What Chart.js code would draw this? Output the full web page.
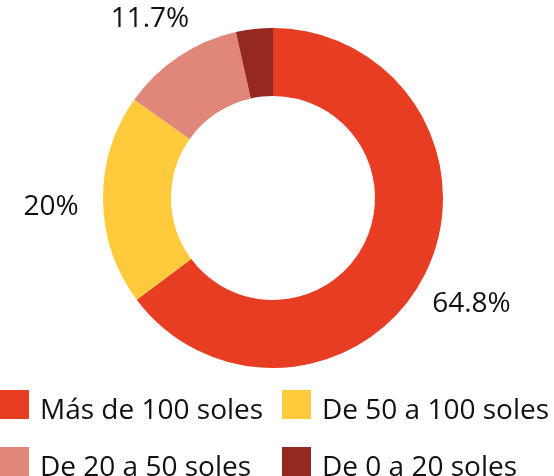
<!DOCTYPE html>
<html>
<head>
<meta charset="utf-8">
<script src="https://cdn.jsdelivr.net/npm/chart.js@4/dist/chart.umd.min.js"></script>
<style>
  html, body { margin: 0; padding: 0; background: #fff; }
  #wrap { position: relative; width: 554px; height: 476px; overflow: hidden; }
  #c { position: absolute; left: 0; top: 0; }
  .lg { position: absolute; height: 29px; }
  .lg .box { position: absolute; left: 0; top: 0; width: 29px; height: 29px; }
  .lg .txt { position: absolute; left: 40px; top: 4px; line-height: 28px; white-space: nowrap;
             font-family: "Open Sans", sans-serif; font-size: 28px; color: #111; }
</style>
</head>
<body>
<div id="wrap">
  <canvas id="c" width="554" height="476"></canvas>
</div>
<script>
const categories = ["Más de 100 soles", "De 50 a 100 soles", "De 20 a 50 soles", "De 0 a 20 soles"];
const shares = [64.8, 20, 11.7, 3.5];
const pctLabels = ["64.8%", "20%", "11.7%", ""];
const colors = ["#E73D22", "#FFCB3C", "#E1877A", "#952820"];

const outLabels = {
  id: 'outLabels',
  afterDatasetsDraw(chart) {
    const ctx = chart.ctx;
    const meta = chart.getDatasetMeta(0);
    ctx.save();
    ctx.font = '28px "Open Sans", sans-serif';
    ctx.fillStyle = '#111';
    ctx.textAlign = 'center';
    ctx.textBaseline = 'middle';
    meta.data.forEach((arc, i) => {
      const txt = pctLabels[i];
      if (!txt) return;
      const p = arc.getProps(['x', 'y', 'startAngle', 'endAngle', 'outerRadius'], true);
      const mid = (p.startAngle + p.endAngle) / 2;
      const d = p.outerRadius + 52;
      ctx.fillText(txt, p.x + Math.cos(mid) * d, p.y + Math.sin(mid) * d + 6);
    });
    ctx.restore();
  }
};

const chart = new Chart(document.getElementById('c'), {
  type: 'doughnut',
  data: {
    labels: categories,
    datasets: [{ data: shares, backgroundColor: colors, borderWidth: 0, hoverOffset: 0 }]
  },
  options: {
    responsive: false,
    animation: false,
    cutout: '60%',
    layout: { padding: { left: 0, right: 8, top: 28, bottom: 108 } },
    plugins: { legend: { display: false }, tooltip: { enabled: false } }
  },
  plugins: [outLabels]
});

// HTML legend in a 2-column grid built from the chart data
const wrap = document.getElementById('wrap');
const colX = [0, 282];
const rowY = [390, 447];
categories.forEach((name, i) => {
  const d = document.createElement('div');
  d.className = 'lg';
  d.style.left = colX[i % 2] + 'px';
  d.style.top = rowY[Math.floor(i / 2)] + 'px';
  const b = document.createElement('div');
  b.className = 'box';
  b.style.background = colors[i];
  const t = document.createElement('div');
  t.className = 'txt';
  t.textContent = name;
  d.appendChild(b); d.appendChild(t);
  wrap.appendChild(d);
});
</script>
</body>
</html>
